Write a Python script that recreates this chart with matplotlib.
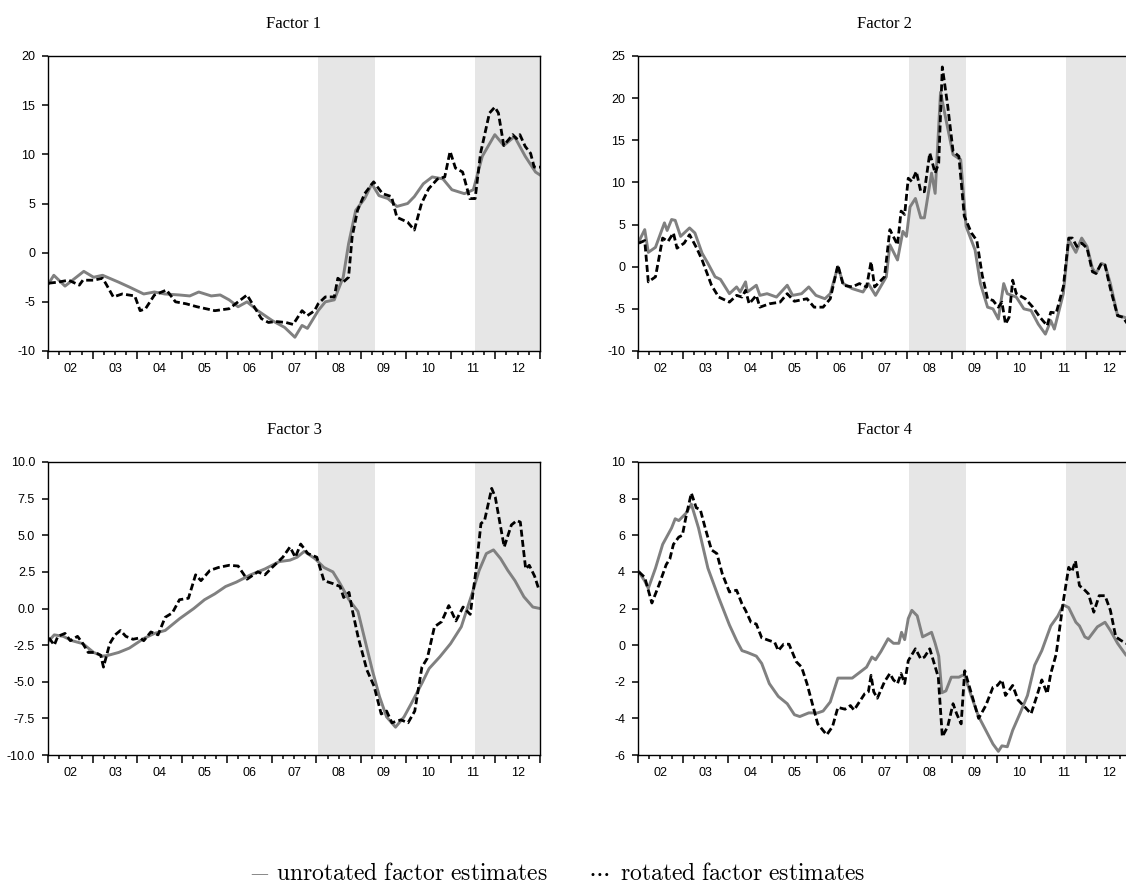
import numpy as np
import matplotlib
matplotlib.use("Agg")
import matplotlib.pyplot as plt
from matplotlib.ticker import MultipleLocator, NullFormatter, FixedLocator, FormatStrFormatter

plt.rcParams['axes.unicode_minus'] = False
plt.rcParams['mathtext.fontset'] = 'cm'
plt.rcParams['font.family'] = ['Liberation Sans', 'DejaVu Sans']

# Factor 1
f1_unrot_t = [2002.02, 2002.13, 2002.38, 2002.80, 2003.02, 2003.22, 2003.58, 2003.82, 2004.14, 2004.38,
              2004.61, 2004.93, 2005.17, 2005.37, 2005.65, 2005.85, 2006.05, 2006.25, 2006.45, 2006.69,
              2007.01, 2007.29, 2007.52, 2007.68, 2007.80, 2008.04, 2008.20, 2008.40, 2008.60, 2008.72,
              2008.88, 2009.08, 2009.24, 2009.40, 2009.60, 2009.80, 2010.04, 2010.19, 2010.39, 2010.59,
              2010.83, 2011.03, 2011.31, 2011.51, 2011.71, 2011.99, 2012.19, 2012.43, 2012.67, 2012.90, 2013.00]
f1_unrot = [-3.1, -2.3, -3.4, -1.9, -2.5, -2.3, -3.0, -3.5, -4.2, -4.0,
            -4.2, -4.3, -4.4, -4.0, -4.4, -4.3, -4.8, -5.5, -5.0, -5.9,
            -6.9, -7.6, -8.6, -7.4, -7.7, -5.9, -5.0, -4.8, -2.5, 0.9,
            4.3, 5.5, 7.0, 5.8, 5.5, 4.7, 5.0, 5.7, 7.0, 7.7,
            7.5, 6.4, 6.0, 6.4, 9.8, 12.0, 10.9, 11.8, 9.8, 8.2, 7.9]
f1_rot_t = [2002.02, 2002.22, 2002.46, 2002.70, 2002.78, 2003.02, 2003.22, 2003.30, 2003.46, 2003.66,
            2003.94, 2004.06, 2004.18, 2004.38, 2004.65, 2004.85, 2005.09, 2005.33, 2005.53, 2005.73,
            2006.05, 2006.25, 2006.45, 2006.61, 2006.77, 2006.93, 2007.09, 2007.32, 2007.48, 2007.68,
            2007.80, 2007.96, 2008.04, 2008.20, 2008.40, 2008.48, 2008.60, 2008.72, 2008.80, 2008.92,
            2009.08, 2009.28, 2009.48, 2009.68, 2009.80, 2010.04, 2010.19, 2010.35, 2010.51, 2010.71,
            2010.87, 2010.99, 2011.11, 2011.27, 2011.43, 2011.55, 2011.67, 2011.87, 2011.99, 2012.07,
            2012.19, 2012.39, 2012.47, 2012.55, 2012.67, 2012.79, 2012.87, 2013.00]
f1_rot = [-3.1, -3.0, -2.8, -3.3, -2.8, -2.8, -2.6, -3.2, -4.5, -4.2,
          -4.4, -5.9, -5.7, -4.3, -3.8, -5.0, -5.2, -5.5, -5.7, -5.9,
          -5.7, -5.0, -4.3, -5.5, -6.7, -7.1, -7.0, -7.1, -7.3, -5.9,
          -6.4, -5.9, -5.2, -4.5, -4.5, -2.6, -3.0, -2.5, 1.6, 4.3,
          6.0, 7.2, 6.0, 5.7, 3.6, 3.1, 2.3, 5.0, 6.5, 7.5,
          7.7, 10.3, 8.6, 8.2, 5.5, 5.5, 10.1, 14.2, 14.8, 14.2,
          10.9, 12.0, 11.6, 12.0, 10.8, 10.1, 8.7, 8.7]

# Factor 2
f2_unrot_t = [2002.02, 2002.15, 2002.23, 2002.39, 2002.59, 2002.65, 2002.75, 2002.83, 2002.95, 2003.03,
              2003.15, 2003.27, 2003.43, 2003.56, 2003.72, 2003.84, 2004.04, 2004.20, 2004.28, 2004.40,
              2004.44, 2004.64, 2004.72, 2004.88, 2005.09, 2005.33, 2005.45, 2005.65, 2005.81, 2005.97,
              2006.17, 2006.29, 2006.46, 2006.58, 2006.78, 2007.02, 2007.14, 2007.30, 2007.54, 2007.62,
              2007.79, 2007.91, 2007.99, 2008.07, 2008.19, 2008.31, 2008.39, 2008.55, 2008.63, 2008.75,
              2008.87, 2009.03, 2009.20, 2009.32, 2009.52, 2009.64, 2009.80, 2009.92, 2010.04, 2010.16,
              2010.24, 2010.44, 2010.61, 2010.77, 2010.93, 2011.09, 2011.21, 2011.29, 2011.49, 2011.61,
              2011.77, 2011.90, 2012.02, 2012.14, 2012.22, 2012.34, 2012.42, 2012.54, 2012.70, 2012.86, 2013.06]
f2_unrot = [3.0, 4.4, 1.7, 2.3, 5.2, 4.3, 5.6, 5.5, 3.6, 4.0,
            4.6, 4.0, 1.6, 0.4, -1.2, -1.5, -3.2, -2.4, -3.0, -1.8,
            -3.0, -2.2, -3.4, -3.2, -3.6, -2.2, -3.4, -3.2, -2.4, -3.4,
            -3.8, -3.2, 0.0, -2.0, -2.6, -3.0, -2.0, -3.4, -1.2, 2.6,
            0.8, 4.2, 3.6, 7.1, 8.1, 5.8, 5.8, 11.1, 8.7, 20.7,
            17.5, 13.3, 12.7, 4.8, 2.0, -2.0, -4.8, -5.0, -6.2, -2.0,
            -3.2, -3.6, -5.0, -5.2, -6.8, -8.0, -6.4, -7.4, -3.2, 3.2,
            1.7, 3.4, 2.4, -0.2, -0.8, 0.4, 0.2, -2.0, -5.8, -6.0, -6.8]
f2_rot_t = [2002.02, 2002.15, 2002.23, 2002.39, 2002.55, 2002.67, 2002.79, 2002.87, 2003.03, 2003.15,
            2003.31, 2003.43, 2003.64, 2003.80, 2004.04, 2004.20, 2004.32, 2004.40, 2004.48, 2004.64,
            2004.72, 2004.93, 2005.17, 2005.33, 2005.49, 2005.77, 2005.93, 2006.13, 2006.29, 2006.46,
            2006.58, 2006.78, 2006.94, 2007.10, 2007.20, 2007.28, 2007.50, 2007.62, 2007.79, 2007.87,
            2007.95, 2008.03, 2008.11, 2008.21, 2008.31, 2008.39, 2008.51, 2008.63, 2008.71, 2008.79,
            2008.91, 2009.03, 2009.16, 2009.28, 2009.44, 2009.56, 2009.68, 2009.80, 2009.92, 2010.04,
            2010.12, 2010.20, 2010.28, 2010.36, 2010.44, 2010.64, 2010.81, 2010.97, 2011.13, 2011.21,
            2011.33, 2011.49, 2011.61, 2011.69, 2011.79, 2011.90, 2012.02, 2012.14, 2012.22, 2012.34,
            2012.42, 2012.54, 2012.70, 2012.82, 2012.95, 2013.06]
f2_rot = [2.8, 3.1, -1.8, -1.2, 3.4, 3.0, 4.0, 2.2, 2.8, 3.8,
          2.2, 0.8, -2.2, -3.6, -4.2, -3.4, -3.6, -2.8, -4.4, -3.4,
          -4.8, -4.4, -4.2, -3.2, -4.1, -3.8, -4.8, -4.8, -3.8, 0.2,
          -2.2, -2.4, -2.0, -2.4, 0.6, -2.4, -1.2, 4.4, 2.6, 6.6,
          6.2, 10.5, 10.1, 11.3, 8.9, 8.9, 13.5, 11.1, 12.3, 23.7,
          19.1, 13.7, 13.1, 6.0, 4.0, 3.1, -1.0, -3.8, -4.0, -4.8,
          -4.2, -6.8, -6.0, -1.6, -3.2, -3.8, -4.8, -6.0, -7.0, -5.4,
          -5.5, -2.4, 3.4, 3.4, 2.4, 2.8, 2.2, -0.6, -0.8, 0.4,
          0.2, -2.6, -5.8, -6.0, -7.0, -7.0]

# Factor 3
f3_unrot_t = [2002.02, 2002.14, 2002.34, 2002.54, 2002.78, 2003.02, 2003.22, 2003.34, 2003.58, 2003.82,
              2004.14, 2004.38, 2004.62, 2004.94, 2005.26, 2005.50, 2005.73, 2005.97, 2006.21, 2006.53,
              2006.85, 2007.17, 2007.41, 2007.57, 2007.73, 2007.97, 2008.17, 2008.37, 2008.53, 2008.73,
              2008.93, 2009.09, 2009.25, 2009.41, 2009.57, 2009.77, 2009.96, 2010.12, 2010.36, 2010.52,
              2010.76, 2011.00, 2011.24, 2011.48, 2011.64, 2011.80, 2011.96, 2012.12, 2012.28, 2012.44,
              2012.64, 2012.84, 2013.00]
f3_unrot = [-2.2, -1.8, -1.9, -2.2, -2.4, -3.0, -3.25, -3.2, -3.0, -2.7,
            -2.05, -1.7, -1.5, -0.7, 0.0, 0.6, 1.0, 1.5, 1.8, 2.3,
            2.7, 3.2, 3.3, 3.5, 3.9, 3.4, 2.8, 2.5, 1.7, 0.6,
            -0.2, -2.2, -4.2, -6.0, -7.4, -8.1, -7.4, -6.5, -5.1, -4.1,
            -3.3, -2.4, -1.25, 1.0, 2.6, 3.75, 4.0, 3.4, 2.6, 1.9,
            0.8, 0.1, 0.0]
f3_rot_t = [2002.02, 2002.14, 2002.22, 2002.38, 2002.50, 2002.66, 2002.78, 2002.90, 2003.06, 2003.18,
            2003.24, 2003.38, 2003.50, 2003.62, 2003.74, 2003.90, 2004.06, 2004.14, 2004.30, 2004.46,
            2004.62, 2004.78, 2004.94, 2005.14, 2005.30, 2005.42, 2005.62, 2005.81, 2006.05, 2006.25,
            2006.45, 2006.69, 2006.85, 2007.01, 2007.25, 2007.41, 2007.53, 2007.65, 2007.81, 2008.01,
            2008.17, 2008.37, 2008.53, 2008.61, 2008.73, 2008.81, 2008.93, 2009.13, 2009.29, 2009.45,
            2009.57, 2009.69, 2009.89, 2010.05, 2010.20, 2010.36, 2010.48, 2010.64, 2010.80, 2010.96,
            2011.12, 2011.28, 2011.44, 2011.56, 2011.68, 2011.76, 2011.92, 2012.00, 2012.20, 2012.36,
            2012.48, 2012.56, 2012.68, 2012.76, 2012.88, 2012.98]
f3_rot = [-2.0, -2.5, -1.9, -1.7, -2.2, -1.9, -2.4, -3.0, -3.0, -3.2,
          -4.0, -2.4, -1.8, -1.5, -1.9, -2.1, -2.0, -2.2, -1.6, -1.8,
          -0.6, -0.3, 0.6, 0.7, 2.3, 1.9, 2.6, 2.8, 2.95, 2.9,
          2.0, 2.5, 2.3, 2.8, 3.5, 4.2, 3.5, 4.4, 3.75, 3.5,
          1.9, 1.7, 1.5, 0.75, 1.1, -0.2, -1.9, -4.2, -5.3, -7.2,
          -7.0, -7.8, -7.6, -7.8, -7.0, -4.0, -3.4, -1.25, -0.9, 0.2,
          -0.85, 0.1, -0.4, 2.4, 5.8, 6.0, 8.2, 7.6, 4.2, 5.7,
          6.0, 5.9, 2.7, 2.95, 2.2, 1.25]

# Factor 4
f4_unrot_t = [2002.02, 2002.15, 2002.23, 2002.39, 2002.55, 2002.75, 2002.83, 2002.91, 2003.07, 2003.19,
              2003.35, 2003.56, 2003.80, 2004.04, 2004.20, 2004.32, 2004.44, 2004.64, 2004.76, 2004.93,
              2005.13, 2005.33, 2005.49, 2005.61, 2005.81, 2006.01, 2006.13, 2006.29, 2006.46, 2006.62,
              2006.78, 2006.94, 2007.10, 2007.22, 2007.30, 2007.42, 2007.58, 2007.70, 2007.82, 2007.88,
              2007.95, 2008.03, 2008.11, 2008.23, 2008.35, 2008.47, 2008.55, 2008.63, 2008.71, 2008.78,
              2008.87, 2008.99, 2009.16, 2009.28, 2009.44, 2009.60, 2009.76, 2009.92, 2010.04, 2010.12,
              2010.24, 2010.36, 2010.52, 2010.69, 2010.85, 2011.01, 2011.21, 2011.37, 2011.49, 2011.61,
              2011.77, 2011.85, 2011.97, 2012.05, 2012.25, 2012.42, 2012.54, 2012.70, 2012.89, 2013.06]
f4_unrot = [4.0, 3.5, 3.1, 4.2, 5.5, 6.4, 6.9, 6.8, 7.2, 7.7,
            6.4, 4.2, 2.6, 1.1, 0.25, -0.3, -0.4, -0.6, -1.0, -2.1,
            -2.8, -3.2, -3.8, -3.9, -3.7, -3.7, -3.6, -3.1, -1.8, -1.8,
            -1.8, -1.5, -1.2, -0.65, -0.8, -0.35, 0.35, 0.1, 0.1, 0.7,
            0.3, 1.45, 1.9, 1.6, 0.45, 0.6, 0.7, 0.1, -0.6, -2.6,
            -2.5, -1.75, -1.75, -1.6, -2.8, -3.9, -4.65, -5.4, -5.8, -5.5,
            -5.55, -4.65, -3.75, -2.75, -1.1, -0.3, 1.05, 1.6, 2.2, 2.05,
            1.25, 1.05, 0.45, 0.35, 1.0, 1.25, 0.8, 0.1, -0.55, -0.8]
f4_rot_t = [2002.02, 2002.15, 2002.31, 2002.47, 2002.63, 2002.71, 2002.79, 2002.91, 2002.99, 2003.07,
            2003.19, 2003.30, 2003.39, 2003.51, 2003.64, 2003.76, 2003.88, 2004.04, 2004.20, 2004.32,
            2004.40, 2004.52, 2004.64, 2004.76, 2004.93, 2005.05, 2005.13, 2005.25, 2005.37, 2005.53,
            2005.65, 2005.77, 2005.89, 2006.01, 2006.21, 2006.34, 2006.46, 2006.62, 2006.74, 2006.82,
            2006.94, 2007.06, 2007.14, 2007.20, 2007.26, 2007.34, 2007.50, 2007.62, 2007.70, 2007.79,
            2007.87, 2007.95, 2008.03, 2008.19, 2008.31, 2008.39, 2008.51, 2008.59, 2008.70, 2008.79,
            2008.91, 2009.03, 2009.11, 2009.21, 2009.29, 2009.44, 2009.60, 2009.76, 2009.92, 2010.02,
            2010.12, 2010.20, 2010.36, 2010.48, 2010.64, 2010.77, 2010.89, 2011.01, 2011.13, 2011.21,
            2011.33, 2011.49, 2011.61, 2011.68, 2011.76, 2011.85, 2011.97, 2012.05, 2012.17, 2012.29,
            2012.42, 2012.54, 2012.66, 2012.78, 2012.89, 2013.06]
f4_rot = [4.0, 3.7, 2.3, 3.3, 4.4, 4.7, 5.5, 5.9, 6.0, 7.0,
          8.3, 7.5, 7.4, 6.3, 5.2, 5.0, 3.9, 2.9, 3.0, 2.25,
          1.9, 1.25, 1.15, 0.4, 0.25, 0.15, -0.3, 0.05, 0.05, -0.9,
          -1.2, -2.1, -3.2, -4.3, -4.9, -4.45, -3.4, -3.5, -3.3, -3.55,
          -3.1, -2.65, -2.55, -1.65, -2.55, -2.9, -2.0, -1.55, -1.9, -2.1,
          -1.55, -2.1, -0.85, -0.2, -0.75, -0.65, -0.2, -0.85, -1.75, -5.0,
          -4.45, -3.2, -3.75, -4.3, -1.4, -2.65, -4.0, -3.3, -2.3, -2.2,
          -1.9, -2.75, -2.2, -3.0, -3.4, -3.75, -2.85, -1.9, -2.65, -1.55,
          -0.5, 2.4, 4.25, 4.0, 4.6, 3.25, 3.0, 2.8, 1.8, 2.7,
          2.7, 1.9, 0.45, 0.25, 0.1, 0.0]

titles = ['Factor 1', 'Factor 2', 'Factor 3', 'Factor 4']
ylims = [(-10, 20), (-10, 25), (-10, 10), (-6, 10)]
ysteps = [5, 5, 2.5, 2]
shaded = [(2008.04, 2009.32), (2011.54, 2013.1)]
year_labels = ['02', '03', '04', '05', '06', '07', '08', '09', '10', '11', '12']
years = [2002 + i for i in range(len(year_labels))]

series = [(f1_unrot_t, f1_unrot, f1_rot_t, f1_rot),
          (f2_unrot_t, f2_unrot, f2_rot_t, f2_rot),
          (f3_unrot_t, f3_unrot, f3_rot_t, f3_rot),
          (f4_unrot_t, f4_unrot, f4_rot_t, f4_rot)]

W, H = 1126, 884
fig = plt.figure(figsize=(W / 100, H / 100), dpi=100)
# panel boxes in pixels: left, top, right, bottom
boxes = [(48, 56, 540, 351), (638, 56, 1131, 351),
         (48, 462, 540, 755), (638, 462, 1131, 755)]

for k in range(4):
    l, t, r, b = boxes[k]
    ax = fig.add_axes([l / W, 1 - b / H, (r - l) / W, (b - t) / H])
    for s0, s1 in shaded:
        ax.axvspan(s0, s1, color='#e6e6e6', lw=0, zorder=0)
    ut, u, rt, rv = series[k]
    ax.plot(ut, u, color='#808080', lw=2.1, zorder=2)
    ax.plot(rt, rv, color='black', lw=2.0, linestyle=(0, (2.5, 1.2)), zorder=3)
    ax.set_xlim(2002, 2013)
    ax.set_ylim(*ylims[k])
    ax.yaxis.set_major_locator(MultipleLocator(ysteps[k]))
    if k == 2:
        ax.yaxis.set_major_formatter(FormatStrFormatter('%.1f'))
    ax.xaxis.set_major_locator(MultipleLocator(1))
    ax.xaxis.set_minor_locator(MultipleLocator(0.25))
    ax.xaxis.set_major_formatter(NullFormatter())
    ax.tick_params(axis='x', which='major', direction='out', length=5.5, width=1.1)
    ax.tick_params(axis='x', which='minor', direction='out', length=3, width=1.1)
    ax.tick_params(axis='y', direction='out', length=4.3, width=1.1, pad=5, labelsize=9)
    for sp in ax.spines.values():
        sp.set_linewidth(1.0)
    sec = ax.secondary_xaxis('bottom')
    sec.xaxis.set_major_locator(FixedLocator([y + 0.5 for y in years]))
    sec.set_xticklabels(year_labels)
    sec.tick_params(length=0, pad=9, labelsize=9)
    sec.spines['bottom'].set_visible(False)
    ax.set_title(titles[k], family='Liberation Serif', fontsize=12, pad=20)

# legend line at the bottom
ly = 1 - 874 / H
fig.text(250 / W, ly, '\u2014', color='#808080', fontsize=13, family='DejaVu Serif', va='center')
fig.text(276 / W, ly, r'$\mathrm{unrotated\ factor\ estimates}$', fontsize=17, va='center')
fig.text(588 / W, ly, r'$\cdots$', fontsize=17, va='center')
fig.text(620 / W, ly, r'$\mathrm{rotated\ factor\ estimates}$', fontsize=17, va='center')

fig.savefig('out.png', dpi=100)
